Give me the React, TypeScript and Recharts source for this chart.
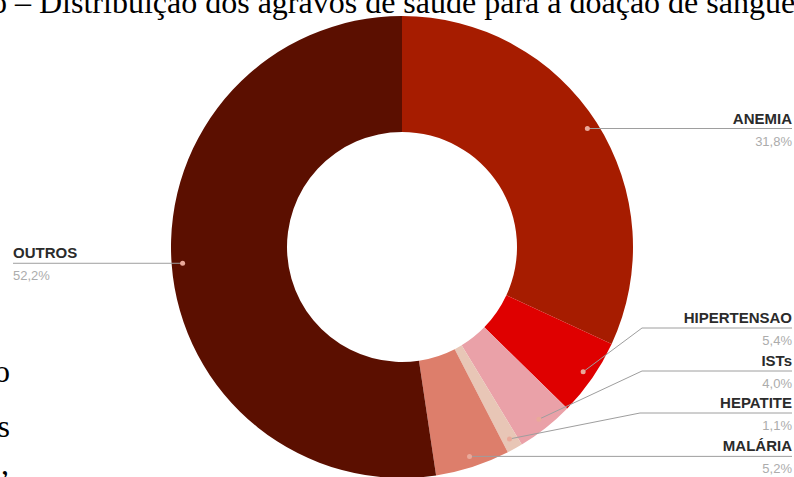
import React from "react";
import { PieChart, Pie, Cell } from "recharts";

const categories = ["ANEMIA", "HIPERTENSAO", "ISTs", "HEPATITE", "MALÁRIA", "OUTROS"];
const shares = [31.8, 5.4, 4.0, 1.1, 5.2, 52.2];
const sliceColors = ["#a61c00", "#df0000", "#eaa1a8", "#e8c6b6", "#dd7e6b", "#5b0f00"];

const titleText = "o \u2013 Distribuição dos agravos de saúde para a doação de sangue";

const data = categories.map((name, i) => ({ name, value: shares[i] }));

const RAD = Math.PI / 180;
const RIGHT_EDGE = 792;
const LEFT_EDGE = 13;

// elbow heights for the stacked labels at the lower right
const elbows: Record<string, [number, number]> = {
  HIPERTENSAO: [642, 328],
  ISTs: [642, 371],
  HEPATITE: [640, 413],
};

const renderLabel = (props: any) => {
  const { cx, cy, midAngle, outerRadius, name, value } = props;
  const r = outerRadius - 11;
  const px = cx + r * Math.cos(-midAngle * RAD);
  const py = cy + r * Math.sin(-midAngle * RAD);
  const left = px < cx;
  const pct = value.toFixed(1).replace(".", ",") + "%";

  let lineY = py;
  let path: string;
  if (elbows[name]) {
    const [ex, ey] = elbows[name];
    lineY = ey;
    path = `M${px},${py}L${ex},${ey}L${RIGHT_EDGE},${ey}`;
  } else if (left) {
    path = `M${px},${py}L${LEFT_EDGE},${py}`;
  } else {
    path = `M${px},${py}L${RIGHT_EDGE},${py}`;
  }
  const tx = left ? LEFT_EDGE : RIGHT_EDGE;
  const anchor = left ? "start" : "end";

  return (
    <g key={name}>
      <path d={path} stroke="#9e9e9e" strokeWidth={1} fill="none" />
      <circle cx={px} cy={py} r={2.5} fill="#e9a99a" />
      <text
        x={tx}
        y={lineY - 5}
        textAnchor={anchor}
        fontFamily="Liberation Sans, Arial, sans-serif"
        fontWeight="bold"
        fontSize={15}
        fill="#2b2b2b"
      >
        {name}
      </text>
      <text
        x={tx}
        y={lineY + 17}
        textAnchor={anchor}
        fontFamily="Liberation Sans, Arial, sans-serif"
        fontSize={13}
        fill="#acacac"
      >
        {pct}
      </text>
    </g>
  );
};

export default function App() {
  return (
    <div style={{ position: "absolute", left: 0, top: 0, width: 794, height: 477, background: "#fff", overflow: "hidden" }}>
      <PieChart width={794} height={477} margin={{ top: 0, right: 0, bottom: 0, left: 0 }}>
        <Pie
          data={data}
          dataKey="value"
          nameKey="name"
          cx={402}
          cy={247}
          innerRadius={115}
          outerRadius={231}
          startAngle={90}
          endAngle={-270}
          stroke="none"
          label={renderLabel}
          labelLine={false}
          isAnimationActive={false}
        >
          {data.map((d, i) => (
            <Cell key={d.name} fill={sliceColors[i]} />
          ))}
        </Pie>
      </PieChart>
      <svg width={794} height={477} style={{ position: "absolute", left: 0, top: 0, pointerEvents: "none" }}>
        <text x={-9} y={12.5} fontFamily="Liberation Serif, Times New Roman, serif" fontSize={32} fill="#000">
          {titleText}
        </text>
        <text x={10} y={382} textAnchor="end" fontFamily="Liberation Serif, Times New Roman, serif" fontSize={32} fill="#000">
          o
        </text>
        <text x={10} y={437} textAnchor="end" fontFamily="Liberation Serif, Times New Roman, serif" fontSize={32} fill="#000">
          s
        </text>
        <text x={9} y={474} textAnchor="end" fontFamily="Liberation Serif, Times New Roman, serif" fontSize={32} fill="#000">
          ,
        </text>
      </svg>
    </div>
  );
}
